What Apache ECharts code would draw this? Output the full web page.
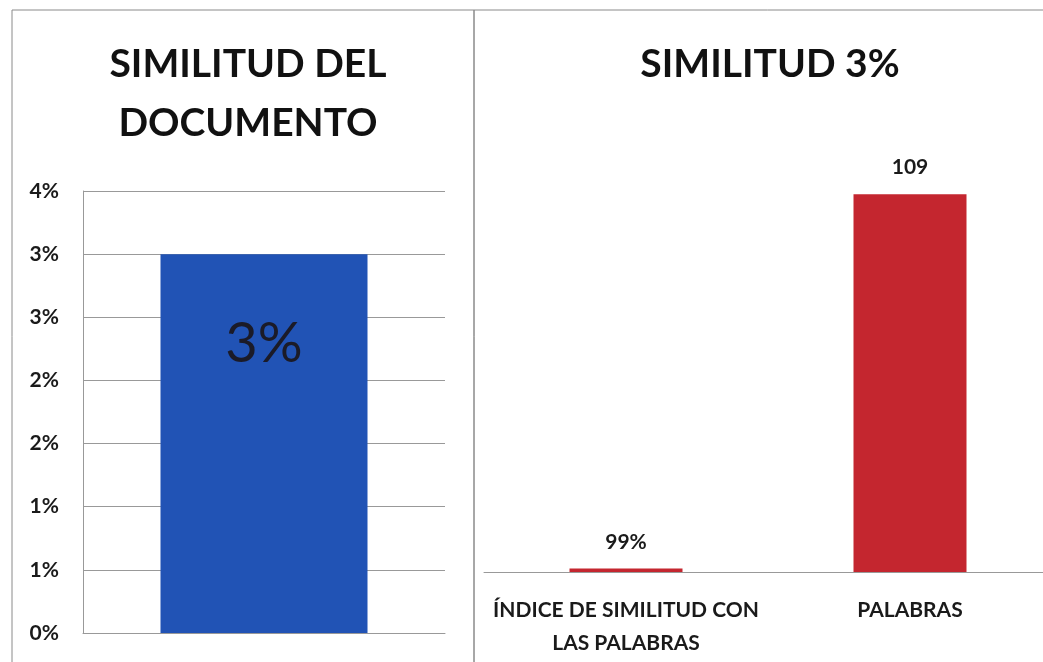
<!DOCTYPE html>
<html>
<head>
<meta charset="utf-8">
<script src="https://cdn.jsdelivr.net/npm/echarts@6/dist/echarts.min.js"></script>
<style>
    html, body { margin: 0; padding: 0; background: #fff; overflow: hidden; }
    #show_picture { width: 1060px; height: 662px; }
</style>
</head>
<body>
<div id="show_picture"></div>
<script>
    // left panel data
    const leftCategories = ['SIMILITUD DEL DOCUMENTO'];
    const leftValues = [0.03];

    // right panel data
    const rightCategories = ['ÍNDICE DE SIMILITUD CON\nLAS PALABRAS', 'PALABRAS'];
    const rightValues = [0.99, 109];
    const rightLabels = ['99%', '109'];

    const font = 'Lato, "Open Sans", sans-serif';
    const pct = v => Math.round(Math.round(v * 1000) / 10) + '%';

    let myChart = echarts.init(document.getElementById('show_picture'));

    let option = {
        animation: false,
        backgroundColor: '#fff',
        textStyle: { fontFamily: font },
        graphic: [
            { type: 'rect', shape: { x: 12, y: 10, width: 462, height: 700 },
              style: { fill: 'none', stroke: '#8a8a8a', lineWidth: 1 } },
            { type: 'rect', shape: { x: 474, y: 10, width: 620, height: 700 },
              style: { fill: 'none', stroke: '#8a8a8a', lineWidth: 1 } }
        ],
        title: [
            {
                text: 'SIMILITUD DEL\nDOCUMENTO',
                left: 243, top: 30, textAlign: 'center',
                textStyle: { fontFamily: font, fontSize: 39, fontWeight: 'bold', color: '#111', lineHeight: 59 }
            },
            {
                text: 'SIMILITUD 3%',
                left: 765, top: 30, textAlign: 'center',
                textStyle: { fontFamily: font, fontSize: 39, fontWeight: 'bold', color: '#111', lineHeight: 59 }
            }
        ],
        grid: [
            { left: 83, top: 191, width: 362, height: 442 },
            { left: 484, top: 156, width: 568, height: 416 }
        ],
        xAxis: [
            {
                type: 'category', gridIndex: 0, data: leftCategories,
                axisLine: { show: true, lineStyle: { color: '#999' } },
                axisTick: { show: false },
                axisLabel: { show: false }
            },
            {
                type: 'category', gridIndex: 1, data: rightCategories,
                axisLine: { show: true, lineStyle: { color: '#999' } },
                axisTick: { show: false },
                axisLabel: {
                    color: '#1a1a1a', fontFamily: font, fontSize: 21, fontWeight: 'bold',
                    lineHeight: 33, margin: 22, interval: 0
                }
            }
        ],
        yAxis: [
            {
                type: 'value', gridIndex: 0, min: 0, max: 0.035, interval: 0.005,
                axisLine: { show: true, lineStyle: { color: '#999' } },
                axisTick: { show: false },
                splitLine: { lineStyle: { color: '#999' } },
                axisLabel: {
                    formatter: pct, color: '#1a1a1a', fontFamily: font,
                    fontSize: 21, fontWeight: 'bold', margin: 24
                }
            },
            {
                type: 'value', gridIndex: 1, min: 0, max: 120,
                show: false, splitLine: { show: false }
            }
        ],
        series: [
            {
                type: 'bar', xAxisIndex: 0, yAxisIndex: 0,
                data: leftValues, barWidth: 207,
                itemStyle: { color: '#2153b5' },
                label: {
                    show: true, position: 'insideTop', distance: 62,
                    formatter: p => pct(p.value),
                    fontFamily: font, fontSize: 56, color: '#1b1b28'
                }
            },
            {
                type: 'bar', xAxisIndex: 1, yAxisIndex: 1,
                data: rightValues, barWidth: 113,
                itemStyle: { color: '#c4262f' },
                label: {
                    show: true, position: 'top', distance: 16,
                    formatter: p => rightLabels[p.dataIndex],
                    fontFamily: font, fontSize: 21, fontWeight: 'bold', color: '#1a1a1a'
                }
            }
        ]
    };

    option && myChart.setOption(option);
</script>
</body>
</html>
